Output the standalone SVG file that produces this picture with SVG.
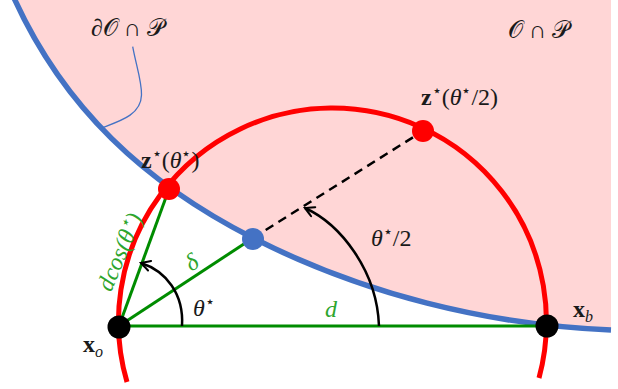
<svg xmlns="http://www.w3.org/2000/svg" width="618" height="389" viewBox="0 0 618 389">
<defs>
<style>
.lbl{font-family:"Liberation Serif","DejaVu Serif",serif;font-size:24px;fill:#1a1a1a}
.glbl{font-family:"Liberation Serif","DejaVu Serif",serif;font-size:24px;fill:#2DA52D;font-style:italic}
.it{font-style:italic}
.bf{font-weight:bold}
.sup{font-size:16px}
.green{stroke:#008C00;stroke-width:3;fill:none}
.arc{stroke:#000;stroke-width:2.5;fill:none;marker-end:url(#arr)}
</style>
<marker id="arr" viewBox="-11 -7 13 14" markerWidth="13" markerHeight="14" refX="0" refY="0" orient="auto" markerUnits="userSpaceOnUse">
<path d="M-9,-5 Q-2,-1 0,0 Q-2,1 -9,5" fill="none" stroke="#000" stroke-width="2" stroke-linecap="round"/>
</marker>
</defs>

<g id="region">
<path d="M14,-2 C64,108 145,183 253,238 C363,294 488,325 611,330 L611,-2 Z" fill="#FFD6D6"/>
<path d="M14,-2 C64,108 145,183 253,238 C363,294 488,325 611,330" fill="none" stroke="#4472C4" stroke-width="5.5"/>
<path d="M132.7,46.7 C136,65 142,82 141.5,95 C141,115 120,121 101.5,128" fill="none" stroke="#4472C4" stroke-width="1.3"/>
<text class="lbl" x="91" y="36">∂𝒪 ∩ 𝒫</text>
<text class="lbl" x="508" y="38">𝒪 ∩ 𝒫</text>
</g>

<g id="circle">
<path d="M127,382 A214,214 0 1 1 539,378" fill="none" stroke="#FF0000" stroke-width="5"/>
</g>

<g id="connectors">
<line class="green" x1="119" y1="326" x2="547" y2="326"/>
<line class="green" x1="119" y1="326" x2="169" y2="189"/>
<line class="green" x1="119" y1="326" x2="253" y2="238"/>
<line x1="253" y1="238" x2="423" y2="131" stroke="#000" stroke-width="2.5" stroke-dasharray="9 6"/>
<path class="arc" d="M182,326 C184,294 166,271 141,263"/>
<path class="arc" d="M379,326 C377,270 340,224 305,208"/>
</g>

<g id="labels-green">
<text class="glbl" x="331" y="317" text-anchor="middle">d</text>
<text class="glbl" transform="translate(196,269) rotate(-33)" text-anchor="middle">δ</text>
<text class="glbl" transform="translate(127,255) rotate(-67)" text-anchor="middle">dcos(θ<tspan class="sup" dy="-9">⋆</tspan><tspan dy="9">)</tspan></text>
</g>

<g id="xo">
<circle cx="119" cy="327" r="11.5" fill="#000"/>
<text class="lbl" x="83" y="352"><tspan class="bf">x</tspan><tspan class="it sup" dy="5">o</tspan></text>
</g>

<g id="xb">
<circle cx="547" cy="326" r="11.5" fill="#000"/>
<text class="lbl" x="573" y="317"><tspan class="bf">x</tspan><tspan class="it sup" dy="5">b</tspan></text>
</g>

<g id="delta-point">
<circle cx="253" cy="239" r="11" fill="#4472C4"/>
</g>

<g id="z-theta">
<circle cx="169" cy="189" r="11" fill="#FF0000"/>
<text class="lbl" x="141" y="168"><tspan class="bf">z</tspan><tspan class="sup" dy="-9">⋆</tspan><tspan dy="9">(</tspan><tspan class="it">θ</tspan><tspan class="sup" dy="-9">⋆</tspan><tspan dy="9">)</tspan></text>
</g>

<g id="z-half">
<circle cx="423" cy="131" r="11" fill="#FF0000"/>
<text class="lbl" x="421" y="105"><tspan class="bf">z</tspan><tspan class="sup" dy="-9">⋆</tspan><tspan dy="9">(</tspan><tspan class="it">θ</tspan><tspan class="sup" dy="-9">⋆</tspan><tspan dy="9">/2)</tspan></text>
</g>

<g id="angle-labels">
<text class="lbl" x="193" y="316"><tspan class="it">θ</tspan><tspan class="sup" dy="-9">⋆</tspan></text>
<text class="lbl" x="371" y="246"><tspan class="it">θ</tspan><tspan class="sup" dy="-9">⋆</tspan><tspan dy="9">/2</tspan></text>
</g>
</svg>
